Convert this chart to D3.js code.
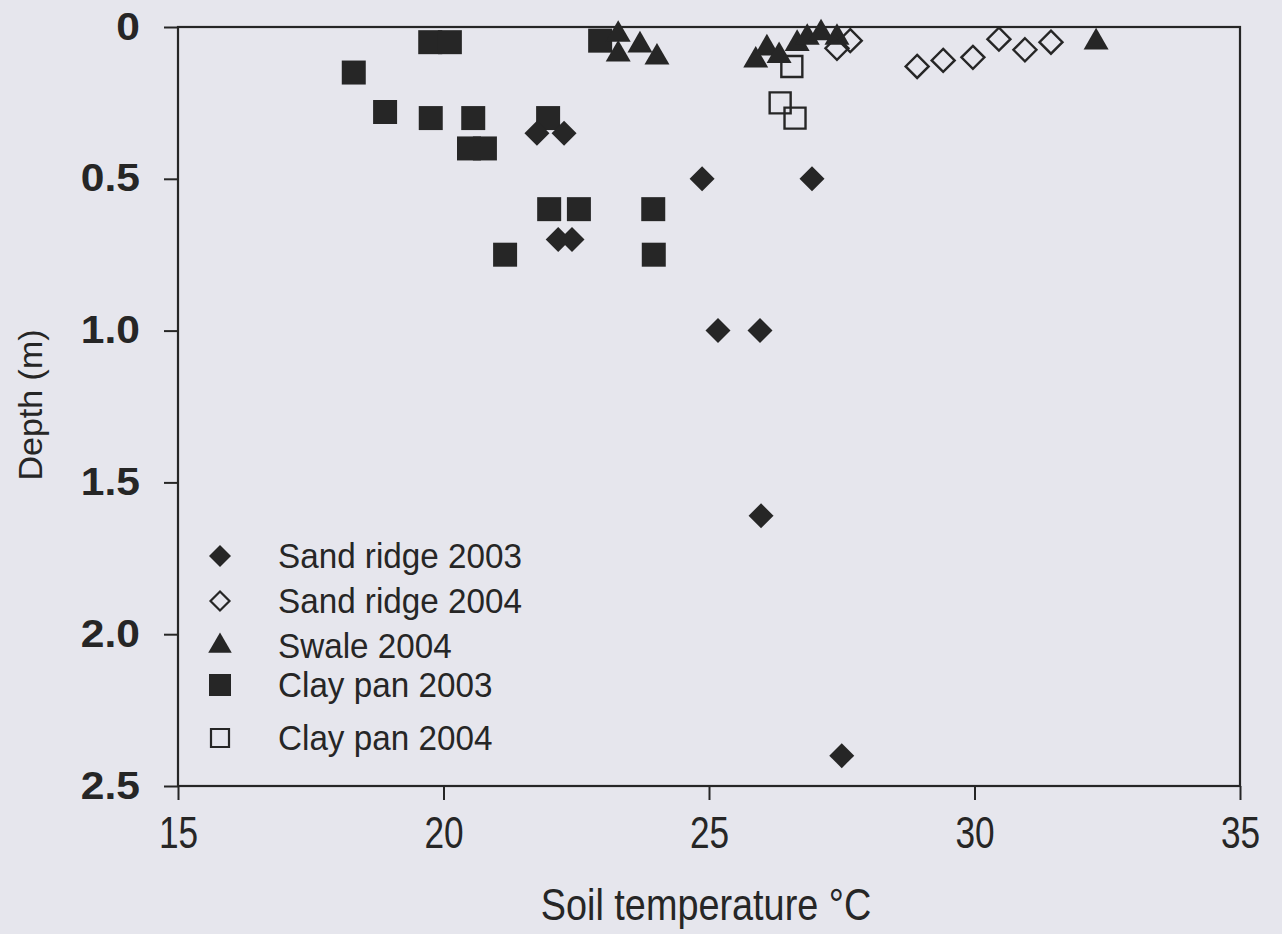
<!DOCTYPE html>
<html><head><meta charset="utf-8">
<script src="https://cdn.jsdelivr.net/npm/d3@7/dist/d3.min.js"></script>
<style>
html,body{margin:0;padding:0;background:#e6e6ed;}
svg{display:block;}
</style></head>
<body>
<svg id="chart" width="1282" height="934"></svg>
<script>
// ---- data ----
const xTicks = [15, 20, 25, 30, 35];
const yTicks = [0, 0.5, 1.0, 1.5, 2.0, 2.5];
const yTickLabels = ["0", "0.5", "1.0", "1.5", "2.0", "2.5"];

const sandRidge2003Temp  = [21.76, 22.27, 22.16, 22.42, 24.87, 26.94, 25.17, 25.96, 25.98, 27.5];
const sandRidge2003Depth = [0.35, 0.35, 0.70, 0.70, 0.50, 0.50, 1.00, 1.00, 1.61, 2.40];

const sandRidge2004Temp  = [27.41, 27.66, 28.92, 29.41, 29.97, 30.46, 30.95, 31.44];
const sandRidge2004Depth = [0.07, 0.045, 0.13, 0.11, 0.10, 0.04, 0.075, 0.05];

const swale2004Temp  = [23.29, 23.29, 23.70, 24.02, 25.88, 26.09, 26.32, 26.66, 26.85, 27.11, 27.41, 32.29];
const swale2004Depth = [0.025, 0.09, 0.06, 0.10, 0.11, 0.07, 0.095, 0.055, 0.035, 0.02, 0.035, 0.05];

const clayPan2003Temp  = [18.31, 18.9, 19.75, 20.12, 19.76, 20.56, 20.48, 20.78, 21.97, 21.99, 22.55, 23.95, 21.16, 23.96, 22.95];
const clayPan2003Depth = [0.15, 0.28, 0.05, 0.05, 0.30, 0.30, 0.40, 0.40, 0.30, 0.60, 0.60, 0.60, 0.75, 0.75, 0.045];

const clayPan2004Temp  = [26.56, 26.34, 26.62];
const clayPan2004Depth = [0.13, 0.25, 0.30];

const seriesNames = ["Sand ridge 2003", "Sand ridge 2004", "Swale 2004", "Clay pan 2003", "Clay pan 2004"];

// ---- layout ----
const svg = d3.select("#chart");
const mL = 178, mR = 1240, mT = 27, mB = 786;
const x = d3.scaleLinear().domain([15, 35]).range([mL, mR]);
const y = d3.scaleLinear().domain([0, 2.5]).range([mT, mB]);
const ink = "#262626";
const FONT = "'Liberation Sans',Arial,sans-serif";

// frame
svg.append("rect").attr("x", mL).attr("y", mT).attr("width", mR-mL).attr("height", mB-mT)
  .attr("fill", "none").attr("stroke", ink).attr("stroke-width", 2.2);

// x axis
const gx = svg.append("g").attr("transform", `translate(0,${mB})`)
  .call(d3.axisBottom(x).tickValues(xTicks).tickSize(14).tickPadding(17).tickFormat(d3.format("d")));
gx.select(".domain").remove();
gx.selectAll("line").attr("stroke", ink).attr("stroke-width", 2);
gx.selectAll("text").attr("fill", ink).style("font-family", FONT).style("font-size", "44px")
  .attr("transform", "scale(0.8,1)");

// y axis
const gy = svg.append("g").attr("transform", `translate(${mL},0)`)
  .call(d3.axisLeft(y).tickValues(yTicks).tickSize(14).tickPadding(24).tickFormat((d, i) => yTickLabels[i]));
gy.select(".domain").remove();
gy.selectAll("line").attr("stroke", ink).attr("stroke-width", 2);
gy.selectAll("text").attr("fill", ink).style("font-family", FONT).style("font-size", "38px")
  .style("font-weight", "bold").attr("x", 0).attr("transform", "translate(-38,0) scale(1.12,1)");

// titles
svg.append("text").attr("transform", "translate(706,920) scale(0.86,1)").attr("text-anchor", "middle")
  .attr("fill", ink).style("font-family", FONT).style("font-size", "44px")
  .text("Soil temperature °C");
svg.append("text").attr("transform", "translate(42,405) rotate(-90)").attr("text-anchor", "middle")
  .attr("fill", ink).style("font-family", FONT).style("font-size", "34px")
  .text("Depth (m)");

// symbols
const sq = d3.symbol().type(d3.symbolSquare);
const tri = d3.symbol().type(d3.symbolTriangle);
function diamondPath(s) { // s = half diagonal
  return `M0,${-s}L${s},0L0,${s}L${-s},0Z`;
}

function plot(temps, depths, kind) {
  const data = temps.map((t, i) => ({t, d: depths[i]}));
  const g = svg.append("g");
  g.selectAll("path").data(data).join("path")
    .attr("transform", p => `translate(${x(p.t)},${y(p.d)})`)
    .attr("d", () => {
      if (kind === "fdiamond" || kind === "odiamond") return diamondPath(kind === "fdiamond" ? 12.5 : 11.5);
      if (kind === "triangle") return tri.size(270)();
      if (kind === "fsquare") return sq.size(24*24)();
      return sq.size(21*21)();
    })
    .attr("fill", kind.startsWith("o") ? "none" : ink)
    .attr("stroke", ink)
    .attr("stroke-width", kind.startsWith("o") ? 2.4 : 0);
}

plot(clayPan2003Temp, clayPan2003Depth, "fsquare");
plot(sandRidge2003Temp, sandRidge2003Depth, "fdiamond");
plot(clayPan2004Temp, clayPan2004Depth, "osquare");
plot(swale2004Temp, swale2004Depth, "triangle");
plot(sandRidge2004Temp, sandRidge2004Depth, "odiamond");

// legend
const legendKinds = ["fdiamond", "odiamond", "triangle", "fsquare", "osquare"];
const legendBase = [568, 613, 658, 697, 750];
const lg = svg.append("g");
seriesNames.forEach((name, i) => {
  const k = legendKinds[i];
  const cy = legendBase[i] - 12;
  let d;
  if (k === "fdiamond" || k === "odiamond") d = diamondPath(k === "fdiamond" ? 11 : 9.5);
  else if (k === "triangle") d = tri.size(240)();
  else if (k === "fsquare") d = sq.size(22*22)();
  else d = sq.size(18*18)();
  lg.append("path").attr("transform", `translate(220,${cy})`).attr("d", d)
    .attr("fill", k.startsWith("o") ? "none" : ink).attr("stroke", ink)
    .attr("stroke-width", k.startsWith("o") ? 2.2 : 0);
  lg.append("text").attr("transform", `translate(278,${legendBase[i]}) scale(0.95,1)`).attr("fill", ink)
    .style("font-family", FONT).style("font-size", "35px")
    .text(name);
});
</script>
</body></html>
